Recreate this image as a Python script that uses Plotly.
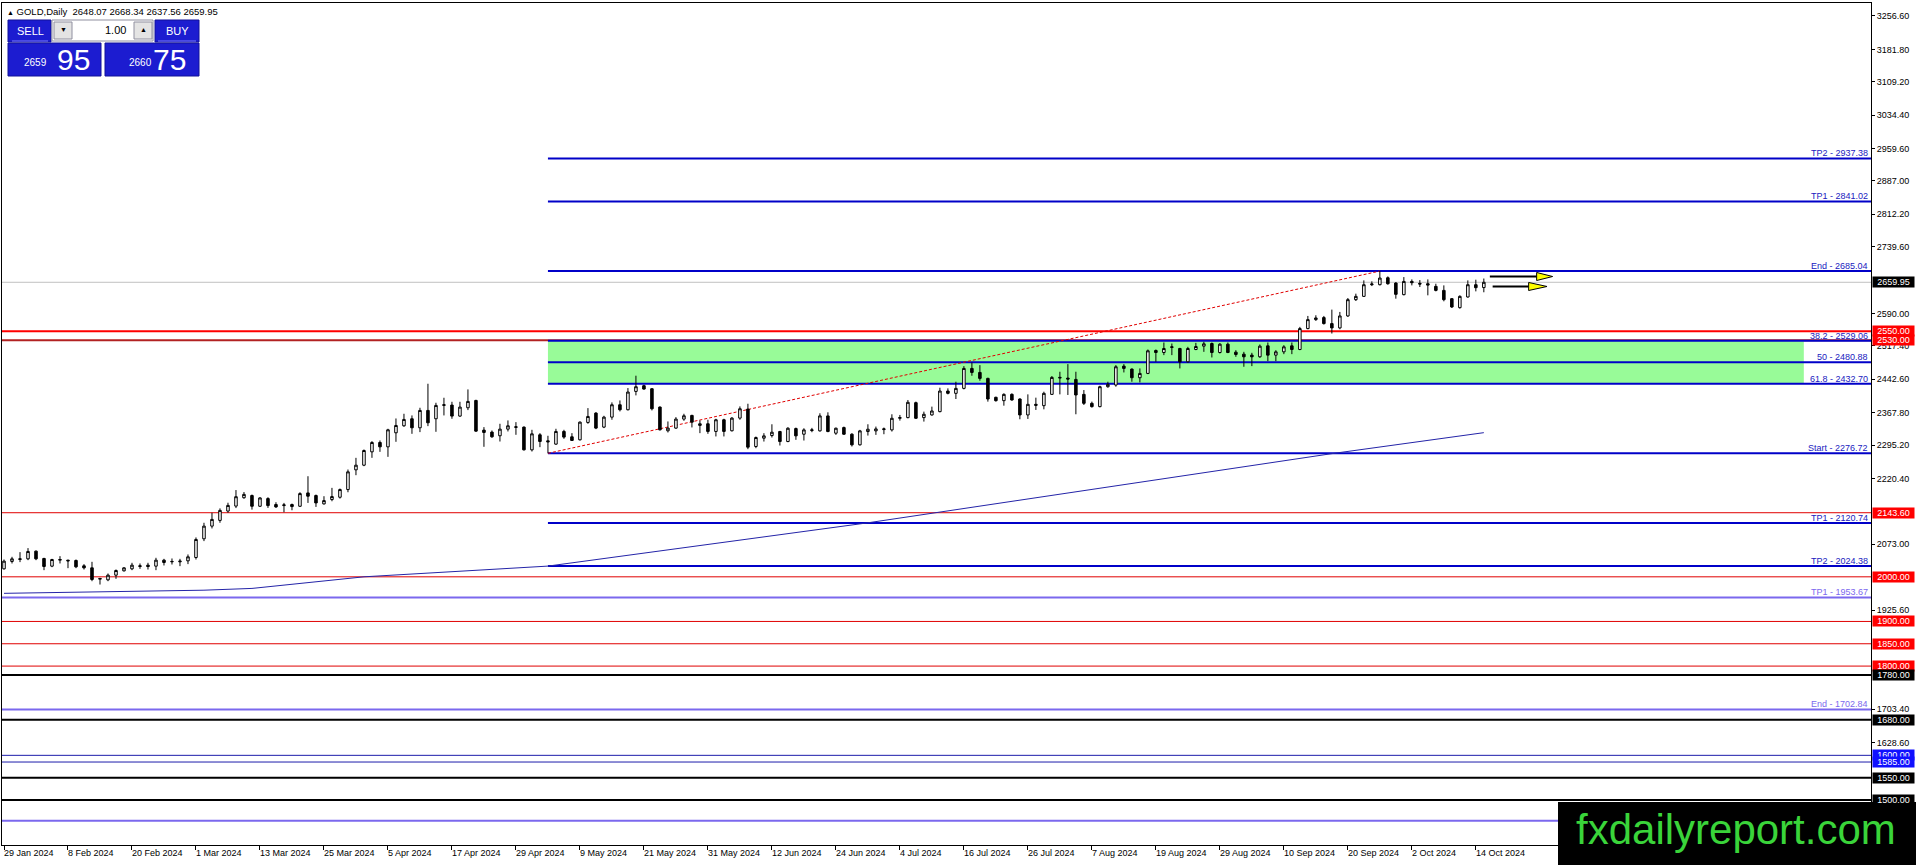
import pandas as pd
import plotly.graph_objects as go

# daily candles: bar 0 = 29 Jan 2024, last bar = 15 Oct 2024
opens = [2017.9, 2034.4, 2038.8, 2040.3, 2057.5, 2041.1, 2023.9, 2037.3, 2037.3, 2036.6,
         2024.6, 2020.1, 1994.7, 1993.2, 2003.7, 2013.4, 2017.9, 2023.1, 2026.1, 2023.9,
         2037.3, 2033.6, 2033.6, 2035.8, 2043.3, 2085.2, 2113.6, 2126.4, 2147.3, 2158.5,
         2177.2, 2182.1, 2158.1, 2175.3, 2161.9, 2159.6, 2161.9, 2158.1, 2188.0, 2182.1,
         2163.4, 2173.1, 2178.3, 2195.5, 2239.7, 2250.1, 2280.0, 2301.0, 2291.2, 2322.7,
         2338.4, 2354.1, 2333.9, 2372.8, 2354.1, 2384.0, 2384.8, 2360.1, 2378.8, 2395.2,
         2328.7, 2324.2, 2316.0, 2330.9, 2334.7, 2335.4, 2284.5, 2318.2, 2304.7, 2297.3,
         2325.7, 2313.7, 2307.0, 2345.9, 2366.8, 2335.4, 2357.8, 2385.5, 2374.3, 2415.4,
         2428.2, 2421.4, 2380.3, 2327.2, 2333.2, 2353.4, 2361.6, 2339.2, 2342.9, 2325.7,
         2351.9, 2327.2, 2355.6, 2375.8, 2292.0, 2310.6, 2316.5, 2325.5, 2303.1, 2332.2,
         2319.5, 2327.7, 2327.0, 2360.5, 2321.8, 2334.4, 2319.5, 2295.7, 2325.5, 2327.0,
         2329.9, 2329.2, 2355.2, 2356.7, 2390.2, 2356.7, 2362.7, 2370.1, 2416.3, 2411.1,
         2422.2, 2466.9, 2457.9, 2444.6, 2402.2, 2394.7, 2408.8, 2398.4, 2362.7, 2386.5,
         2383.5, 2408.8, 2445.3, 2445.3, 2442.3, 2408.8, 2388.7, 2381.3, 2426.0, 2429.7,
         2472.1, 2465.4, 2446.1, 2455.7, 2507.1, 2502.6, 2513.8, 2511.6, 2481.8, 2509.3,
         2516.8, 2522.7, 2502.6, 2521.2, 2503.4, 2498.9, 2496.7, 2493.0, 2517.5, 2496.7,
         2504.1, 2517.5, 2509.3, 2556.2, 2576.3, 2580.8, 2567.4, 2557.7, 2584.5, 2621.0,
         2628.4, 2654.5, 2654.5, 2670.1, 2658.2, 2632.2, 2661.9, 2657.5, 2656.7, 2650.8,
         2641.8, 2623.2, 2603.1, 2627.0, 2654.5, 2648.07]
highs = [2038.8, 2044.8, 2055.3, 2064.3, 2059.0, 2042.6, 2040.3, 2046.3, 2038.1, 2038.8,
         2028.4, 2033.6, 1997.7, 2007.4, 2016.4, 2021.6, 2031.4, 2029.9, 2031.4, 2042.6,
         2040.3, 2041.1, 2040.3, 2050.1, 2088.2, 2121.1, 2143.6, 2153.3, 2166.0, 2194.4,
         2189.9, 2184.3, 2178.3, 2178.3, 2167.1, 2165.6, 2164.1, 2189.5, 2225.4, 2184.3,
         2180.6, 2199.3, 2197.8, 2240.4, 2266.6, 2285.3, 2304.0, 2305.5, 2331.7, 2354.8,
         2365.3, 2361.6, 2378.8, 2432.6, 2390.0, 2401.2, 2392.2, 2392.2, 2419.9, 2396.7,
         2335.4, 2327.9, 2342.9, 2350.4, 2346.6, 2336.9, 2329.4, 2321.9, 2316.0, 2331.7,
         2329.4, 2321.9, 2348.1, 2378.0, 2369.1, 2360.8, 2390.8, 2395.2, 2422.9, 2450.6,
         2430.4, 2422.9, 2381.8, 2348.1, 2357.8, 2365.3, 2363.1, 2350.4, 2351.9, 2354.1,
         2354.1, 2357.8, 2381.8, 2387.8, 2314.3, 2321.8, 2341.8, 2327.0, 2335.2, 2334.4,
         2332.9, 2333.7, 2366.4, 2368.6, 2334.4, 2336.6, 2321.8, 2329.2, 2341.8, 2336.6,
         2334.4, 2364.2, 2362.7, 2396.2, 2392.5, 2370.1, 2381.3, 2423.7, 2422.2, 2437.1,
         2472.1, 2480.3, 2474.3, 2446.1, 2403.6, 2411.1, 2411.1, 2399.9, 2408.8, 2401.4,
         2414.8, 2449.8, 2459.5, 2476.6, 2459.5, 2418.5, 2392.5, 2428.2, 2437.1, 2474.3,
         2476.6, 2466.9, 2466.9, 2509.3, 2509.3, 2525.0, 2522.7, 2513.1, 2515.3, 2524.2,
         2526.5, 2525.0, 2523.5, 2525.0, 2507.8, 2504.1, 2501.9, 2520.5, 2525.0, 2507.8,
         2519.0, 2525.0, 2560.0, 2584.5, 2586.0, 2584.5, 2598.7, 2593.5, 2624.7, 2634.4,
         2664.2, 2662.0, 2685.0, 2673.1, 2660.4, 2671.6, 2666.4, 2664.9, 2666.4, 2656.7,
         2653.0, 2624.7, 2630.7, 2664.2, 2665.7, 2668.34]
lows = [2016.4, 2029.9, 2032.9, 2037.3, 2037.3, 2014.9, 2021.6, 2029.9, 2019.4, 2019.4,
        2016.4, 1990.2, 1982.7, 1990.2, 1995.5, 2011.9, 2014.9, 2017.9, 2016.4, 2014.9,
        2025.4, 2027.6, 2023.9, 2028.4, 2038.8, 2080.0, 2108.4, 2121.1, 2143.6, 2154.0,
        2175.0, 2150.6, 2156.6, 2154.4, 2154.4, 2144.7, 2149.1, 2156.6, 2165.6, 2156.6,
        2161.9, 2169.3, 2175.3, 2189.5, 2227.7, 2247.9, 2266.6, 2280.0, 2268.8, 2302.5,
        2336.1, 2320.4, 2324.2, 2337.6, 2324.9, 2361.6, 2354.1, 2358.6, 2373.5, 2324.9,
        2291.3, 2311.5, 2303.2, 2325.7, 2318.2, 2283.0, 2280.8, 2290.5, 2276.7, 2295.8,
        2309.2, 2304.7, 2305.5, 2342.9, 2330.9, 2333.2, 2351.9, 2370.6, 2372.8, 2406.5,
        2419.2, 2372.8, 2327.9, 2323.4, 2331.7, 2349.6, 2334.7, 2321.9, 2320.4, 2314.5,
        2314.5, 2325.7, 2351.9, 2286.0, 2288.2, 2303.1, 2312.1, 2294.2, 2301.7, 2306.9,
        2305.4, 2324.0, 2325.5, 2324.0, 2318.0, 2318.0, 2292.0, 2294.2, 2316.5, 2318.0,
        2319.5, 2325.5, 2350.0, 2355.2, 2353.7, 2347.8, 2361.2, 2368.6, 2408.8, 2398.4,
        2420.0, 2450.5, 2439.4, 2392.5, 2392.5, 2383.5, 2394.7, 2353.0, 2353.7, 2373.9,
        2375.3, 2407.4, 2408.8, 2407.4, 2364.2, 2385.0, 2379.1, 2379.8, 2423.7, 2426.0,
        2457.9, 2437.1, 2435.6, 2454.2, 2481.8, 2496.7, 2496.7, 2466.9, 2480.3, 2507.8,
        2504.1, 2491.5, 2500.4, 2501.1, 2493.0, 2470.6, 2472.1, 2490.7, 2483.3, 2483.3,
        2498.9, 2498.9, 2507.8, 2554.7, 2573.4, 2565.2, 2545.1, 2554.7, 2582.3, 2618.0,
        2627.0, 2651.5, 2653.0, 2654.5, 2623.2, 2630.7, 2653.0, 2649.3, 2630.7, 2639.6,
        2617.3, 2602.4, 2600.9, 2625.5, 2639.6, 2637.56]
closes = [2035.1, 2040.3, 2040.3, 2056.8, 2040.3, 2023.1, 2038.8, 2038.8, 2035.8, 2022.4,
          2020.1, 1994.0, 1996.2, 2003.7, 2014.2, 2020.1, 2026.1, 2024.6, 2023.1, 2037.3,
          2032.1, 2034.4, 2035.1, 2044.8, 2083.7, 2113.6, 2128.6, 2148.8, 2160.0, 2179.5,
          2184.7, 2158.1, 2176.8, 2159.6, 2156.6, 2161.1, 2157.4, 2186.5, 2180.6, 2165.6,
          2170.8, 2179.8, 2195.5, 2235.2, 2250.1, 2283.0, 2301.0, 2291.2, 2329.4, 2339.1,
          2352.6, 2333.9, 2372.8, 2345.1, 2384.0, 2385.5, 2360.1, 2380.3, 2393.0, 2326.4,
          2323.4, 2313.7, 2330.9, 2338.4, 2336.2, 2284.5, 2320.4, 2303.2, 2302.5, 2325.7,
          2313.0, 2305.5, 2346.6, 2359.3, 2333.2, 2357.8, 2385.5, 2374.3, 2414.0, 2425.9,
          2420.7, 2376.5, 2329.4, 2333.2, 2353.4, 2360.8, 2346.6, 2342.9, 2325.7, 2351.9,
          2325.7, 2355.6, 2376.5, 2290.5, 2312.1, 2315.8, 2324.0, 2303.1, 2332.9, 2315.8,
          2329.2, 2329.2, 2360.5, 2325.5, 2332.9, 2319.5, 2295.7, 2327.0, 2330.7, 2331.4,
          2331.4, 2355.2, 2356.7, 2391.0, 2355.2, 2364.2, 2371.6, 2416.3, 2411.1, 2422.2,
          2466.9, 2457.9, 2444.6, 2398.4, 2394.7, 2408.8, 2396.2, 2362.7, 2386.5, 2384.3,
          2411.1, 2446.8, 2446.8, 2443.1, 2407.4, 2388.7, 2381.3, 2426.0, 2431.2, 2470.6,
          2466.9, 2446.1, 2455.7, 2506.4, 2502.6, 2511.6, 2515.3, 2481.8, 2511.6, 2516.0,
          2522.0, 2502.6, 2521.2, 2502.6, 2498.2, 2493.0, 2493.0, 2516.8, 2496.7, 2504.1,
          2515.3, 2509.3, 2556.2, 2576.3, 2580.0, 2567.4, 2557.7, 2584.5, 2621.0, 2628.4,
          2654.5, 2656.0, 2669.4, 2656.7, 2632.9, 2661.9, 2659.0, 2656.0, 2653.7, 2641.8,
          2621.0, 2604.6, 2628.4, 2654.5, 2647.8, 2659.95]

# trading days (broker had no bar on Good Friday)
dates = pd.bdate_range('2024-01-29', '2024-10-15')
dates = dates[dates != pd.Timestamp('2024-03-29')]
bars = list(range(len(dates)))

# moving average, read at a few bars
ma_bars = [0, 25, 31, 45, 68, 108, 166, 181, 185]
ma_vals = [1963, 1970, 1974, 2000, 2024, 2121, 2276, 2314, 2323]

# fibo expansion drawn from the 3 May low
fib_start_bar, fib_end_bar, fib_box_end_bar = 68, 172, 225
fib_names = ['TP2', 'TP1', 'End', '38.2', '50', '61.8', 'Start', 'TP1', 'TP2']
fib_levels = [2937.38, 2841.02, 2685.04, 2529.06, 2480.88, 2432.70, 2276.72, 2120.74, 2024.38]
# older fibo, only its right part is on screen (lowest label sits under the watermark)
old_fib_names = ['TP1', 'End']
old_fib_levels = [1953.67, 1702.84]
old_fib_bottom = 1453.60

red_levels = [2550.00, 2530.00, 2143.60, 2000.00, 1900.00, 1850.00, 1800.00]
black_levels = [1780.00, 1680.00, 1550.00, 1500.00]
blue_levels = [1600.00, 1585.00]
last_price = 2659.95
ohlc_text = '2648.07 2668.34 2637.56 2659.95'

price_ticks = [3256.60, 3181.80, 3109.20, 3034.40, 2959.60, 2887.00, 2812.20, 2739.60,
               2590.00, 2517.40, 2442.60, 2367.80, 2295.20, 2220.40, 2073.00, 1925.60,
               1703.40, 1628.60]

# the two drawn arrows: (start bar, head start bar, tip bar, price)
arrows = [(185.75, 191.6, 193.6, 2672.9), (186.1, 190.6, 192.9, 2650.5)]

W, H = 1916, 865
L, R, T, B = 2, 45, 3, 20
FONT = 'Liberation Sans'


def xp(px):
    return (px - L) / (W - L - R)


def yp(py):
    return (H - B - py) / (H - T - B)


fig = go.Figure()
fig.add_trace(go.Candlestick(
    x=bars, open=opens, high=highs, low=lows, close=closes,
    increasing=dict(fillcolor='white', line=dict(color='black', width=1)),
    decreasing=dict(fillcolor='black', line=dict(color='black', width=1)),
    whiskerwidth=0, showlegend=False, hoverinfo='skip'))
fig.add_trace(go.Scatter(x=ma_bars, y=ma_vals, mode='lines',
                         line=dict(color='#2424a8', width=1),
                         showlegend=False, hoverinfo='skip'))

shapes = []
# fibo zone
shapes.append(dict(type='rect', xref='x', yref='y', x0=fib_start_bar, x1=fib_box_end_bar,
                   y0=fib_levels[5], y1=fib_levels[3], fillcolor='#98fb98',
                   line=dict(width=0), layer='below'))


def hline(level, color, width, dash='solid'):
    shapes.append(dict(type='line', xref='paper', yref='y', x0=0, x1=1, y0=level, y1=level,
                       line=dict(color=color, width=width, dash=dash), layer='below'))


hline(last_price, '#c0c0c0', 1)
for lv in old_fib_levels + [old_fib_bottom]:
    hline(lv, '#7b68ee', 2)
for lv in red_levels:
    if lv == 2550.00:
        hline(lv, '#ff0000', 2)
    elif lv == 2530.00:
        hline(lv, '#b22222', 2)
    else:
        hline(lv, '#e00000', 1)
for lv in black_levels:
    hline(lv, 'black', 2)
for lv in blue_levels:
    hline(lv, '#1c1caa', 1)

for lv in fib_levels:
    shapes.append(dict(type='line', xref='x', yref='y', x0=fib_start_bar, x1=240,
                       y0=lv, y1=lv, line=dict(color='#0000c8', width=2), layer='below'))

# trend line of the fibo
shapes.append(dict(type='line', xref='x', yref='y', x0=fib_start_bar, x1=fib_end_bar,
                   y0=fib_levels[6], y1=fib_levels[2],
                   line=dict(color='#e00000', width=1, dash='3px,2px'), layer='below'))

# arrows
for x0, xh, xt, lv in arrows:
    shapes.append(dict(type='line', xref='x', yref='y', x0=x0, x1=xh, y0=lv, y1=lv,
                       line=dict(color='black', width=2), layer='above'))
    shapes.append(dict(type='path', xref='x', yref='y',
                       path=f'M {xh},{lv + 9} L {xt},{lv} L {xh},{lv - 9} Z',
                       fillcolor='#ffff00', line=dict(color='black', width=1), layer='above'))

# one-click trading panel
panel_blue = '#1c1cd0'
for x0, y0, x1, y1, col in [(8, 20, 51, 42, panel_blue), (155, 20, 199, 42, panel_blue),
                            (8, 43, 101, 76, panel_blue), (105, 43, 199, 76, panel_blue),
                            (52, 20, 153, 41, 'white'), (54, 22, 72, 39, '#e4e4e4'),
                            (134, 22, 152, 39, '#e4e4e4')]:
    shapes.append(dict(type='rect', xref='paper', yref='paper', x0=xp(x0), x1=xp(x1),
                       y0=yp(y1), y1=yp(y0), fillcolor=col,
                       line=dict(color='#9090a0' if col != panel_blue else '#10109a', width=1),
                       layer='above'))
for x0, x1 in [(12, 48), (158, 196)]:
    shapes.append(dict(type='line', xref='paper', yref='paper', x0=xp(x0), x1=xp(x1),
                       y0=yp(41), y1=yp(41), line=dict(color='#7a7aff', width=1), layer='above'))

# watermark box
shapes.append(dict(type='rect', xref='paper', yref='paper', x0=xp(1558), x1=xp(1917),
                   y0=yp(866), y1=yp(802), fillcolor='black', line=dict(width=0), layer='above'))

ann = []


def text(px, py, s, size=9, color='black', xanchor='left', family=FONT):
    ann.append(dict(xref='paper', yref='paper', x=xp(px), y=yp(py), text=s, showarrow=False,
                    xanchor=xanchor, yanchor='middle', font=dict(family=family, size=size, color=color)))


# fibo labels
for name, lv in zip(fib_names, fib_levels):
    ann.append(dict(xref='paper', yref='y', x=1, y=lv, xanchor='right', yanchor='bottom',
                    xshift=-1, yshift=-2, showarrow=False, text=f'{name} - {lv:.2f}',
                    font=dict(family=FONT, size=9, color='#2020c0')))
for name, lv in zip(old_fib_names, old_fib_levels):
    ann.append(dict(xref='paper', yref='y', x=1, y=lv, xanchor='right', yanchor='bottom',
                    xshift=-1, yshift=-2, showarrow=False, text=f'{name} - {lv:.2f}',
                    font=dict(family=FONT, size=9, color='#7b68ee')))

# price marks on the scale
marks = [(lv, '#ff0000') for lv in red_levels] + [(lv, 'black') for lv in black_levels] + \
        [(lv, '#1010ff') for lv in blue_levels] + [(last_price, 'black')]
for lv, col in marks:
    ann.append(dict(xref='paper', yref='y', x=1, y=lv, xanchor='left', yanchor='middle',
                    xshift=1, showarrow=False, text=f'{lv:.2f}', bgcolor=col,
                    width=41, height=10, borderpad=0,
                    font=dict(family=FONT, size=9, color='white')))

# date labels, every 8 bars
for i in range(0, len(dates), 8):
    d = dates[i]
    ann.append(dict(xref='x', yref='paper', x=i, y=0, xanchor='left', yanchor='top',
                    xshift=-2, yshift=-1, showarrow=False,
                    text=f'{d.day} {d.strftime("%b %Y")}',
                    font=dict(family=FONT, size=9, color='black')))

# header + trading panel text
text(5, 11, "<span style='font-size:7px'>▲</span> GOLD,Daily  " + ohlc_text, size=9.5)
text(30, 31, 'SELL', size=11, color='white', xanchor='center')
text(177, 31, 'BUY', size=11, color='white', xanchor='center')
text(63, 30, '▼', size=7, xanchor='center')
text(143, 30, '▲', size=7, xanchor='center')
text(128, 30, '1.00', size=11, xanchor='right')
text(22, 62, '2659', size=10, color='white')
text(55, 59, '95', size=30, color='white')
text(127, 62, '2660', size=10, color='white')
text(151, 59, '75', size=30, color='white')
text(1736, 829, 'fxdailyreport.com', size=42, color='#3ad43a', xanchor='center')

fig.update_layout(
    width=W, height=H,
    margin=dict(l=L, r=R, t=T, b=B),
    paper_bgcolor='white', plot_bgcolor='white',
    shapes=shapes, annotations=ann,
    boxgap=0.55,
    showlegend=False,
    xaxis=dict(range=[-0.25, 233.4], rangeslider=dict(visible=False), showgrid=False,
               zeroline=False, showline=True, mirror=True, linecolor='black', linewidth=1,
               ticks='outside', ticklen=4, tickcolor='black',
               tickvals=list(range(0, len(dates), 8)), showticklabels=False),
    yaxis=dict(range=[1399.1, 3285.7], side='right', showgrid=False, zeroline=False,
               showline=True, mirror=True, linecolor='black', linewidth=1,
               ticks='outside', ticklen=3, tickcolor='black',
               tickvals=price_ticks, ticktext=[f'{v:.2f}' for v in price_ticks],
               tickfont=dict(family=FONT, size=9, color='black')),
)

# page without the default body margin so the figure sits at the window corner
fig.write_html('out.html', config={'displayModeBar': False},
               post_script="document.body.style.margin='0';document.body.style.overflow='hidden';")
